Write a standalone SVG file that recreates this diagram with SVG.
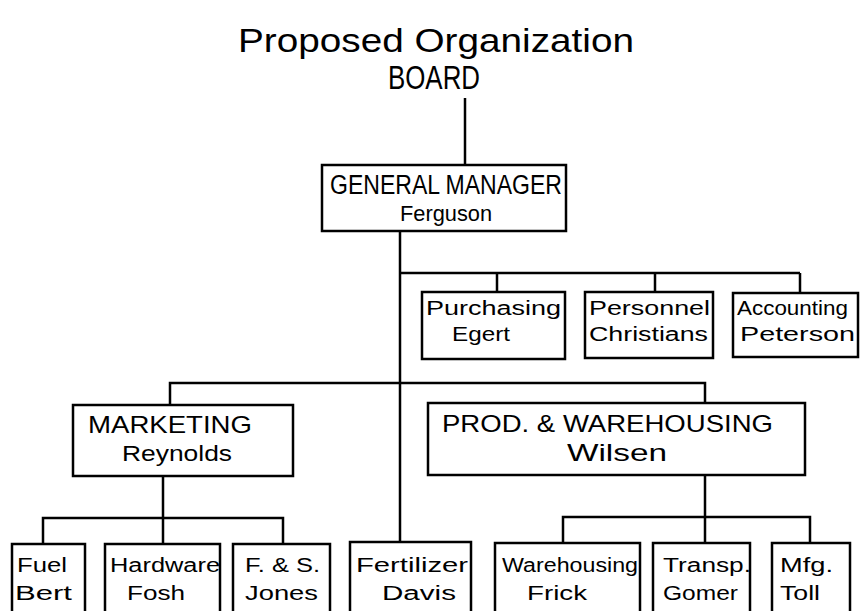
<svg xmlns="http://www.w3.org/2000/svg" width="862" height="611" viewBox="0 0 862 611">
<style>
.box{fill:#fff;stroke:#000;stroke-width:2.5}
.ln{stroke:#000;stroke-width:2.5;fill:none}
text{font-family:"Liberation Sans","DejaVu Sans",sans-serif;fill:#000}
.t1{font-size:20px}
</style>
<rect width="862" height="611" fill="#fff"/>
<g id="title">
<text x="238" y="52" font-size="34" textLength="396" lengthAdjust="spacingAndGlyphs">Proposed Organization</text>
</g>
<g id="board">
<text x="388" y="89" font-size="34" textLength="92" lengthAdjust="spacingAndGlyphs">BOARD</text>
</g>
<g id="connectors">
<path class="ln" d="M465 98V165"/>
<path class="ln" d="M400 231V542"/>
<path class="ln" d="M400 273H800M497 273V292M655 273V292M800 273V293"/>
<path class="ln" d="M170 405V383H705V403"/>
<path class="ln" d="M163 476V518M43 544V518H283V544M163 518V544"/>
<path class="ln" d="M705 475V517M563 543V517H810V543M705 517V543"/>
</g>
<g id="gm">
<rect class="box" x="322" y="165" width="244" height="66"/>
<text x="330" y="194" font-size="27" textLength="232" lengthAdjust="spacingAndGlyphs">GENERAL MANAGER</text>
<text x="400" y="221" font-size="22" textLength="92" lengthAdjust="spacingAndGlyphs">Ferguson</text>
</g>
<g id="purchasing">
<rect class="box" x="422" y="292" width="143" height="67"/>
<text class="t1" x="426" y="315" textLength="135" lengthAdjust="spacingAndGlyphs">Purchasing</text>
<text class="t1" x="452" y="341" textLength="58" lengthAdjust="spacingAndGlyphs">Egert</text>
</g>
<g id="personnel">
<rect class="box" x="585" y="292" width="128" height="66"/>
<text class="t1" x="589" y="315" textLength="121" lengthAdjust="spacingAndGlyphs">Personnel</text>
<text class="t1" x="589" y="341" textLength="119" lengthAdjust="spacingAndGlyphs">Christians</text>
</g>
<g id="accounting">
<rect class="box" x="733" y="293" width="125" height="64"/>
<text class="t1" x="737" y="315" textLength="111" lengthAdjust="spacingAndGlyphs">Accounting</text>
<text class="t1" x="740" y="341" textLength="115" lengthAdjust="spacingAndGlyphs">Peterson</text>
</g>
<g id="marketing">
<rect class="box" x="73" y="405" width="220" height="71"/>
<text x="88" y="433" font-size="24" textLength="164" lengthAdjust="spacingAndGlyphs">MARKETING</text>
<text x="122" y="461" font-size="22" textLength="110" lengthAdjust="spacingAndGlyphs">Reynolds</text>
</g>
<g id="production">
<rect class="box" x="428" y="403" width="377" height="72"/>
<text x="442" y="432" font-size="24" textLength="331" lengthAdjust="spacingAndGlyphs">PROD. &amp; WAREHOUSING</text>
<text x="567" y="461" font-size="24" textLength="100" lengthAdjust="spacingAndGlyphs">Wilsen</text>
</g>
<g id="fuel">
<rect class="box" x="12" y="544" width="73" height="90"/>
<text class="t1" x="17" y="572" textLength="50" lengthAdjust="spacingAndGlyphs">Fuel</text>
<text class="t1" x="15" y="600" textLength="57" lengthAdjust="spacingAndGlyphs">Bert</text>
</g>
<g id="hardware">
<rect class="box" x="105" y="544" width="115" height="90"/>
<text class="t1" x="110" y="572" textLength="110" lengthAdjust="spacingAndGlyphs">Hardware</text>
<text class="t1" x="127" y="600" textLength="58" lengthAdjust="spacingAndGlyphs">Fosh</text>
</g>
<g id="fs">
<rect class="box" x="233" y="544" width="97" height="90"/>
<text class="t1" x="245" y="572" textLength="75" lengthAdjust="spacingAndGlyphs">F. &amp; S.</text>
<text class="t1" x="245" y="600" textLength="73" lengthAdjust="spacingAndGlyphs">Jones</text>
</g>
<g id="fertilizer">
<rect class="box" x="350" y="542" width="121" height="90"/>
<text class="t1" x="356" y="572" textLength="112" lengthAdjust="spacingAndGlyphs">Fertilizer</text>
<text class="t1" x="382" y="600" textLength="74" lengthAdjust="spacingAndGlyphs">Davis</text>
</g>
<g id="warehousing">
<rect class="box" x="495" y="543" width="145" height="90"/>
<text class="t1" x="502" y="572" textLength="136" lengthAdjust="spacingAndGlyphs">Warehousing</text>
<text class="t1" x="527" y="600" textLength="60" lengthAdjust="spacingAndGlyphs">Frick</text>
</g>
<g id="transp">
<rect class="box" x="653" y="543" width="97" height="90"/>
<text class="t1" x="663" y="572" textLength="88" lengthAdjust="spacingAndGlyphs">Transp.</text>
<text class="t1" x="663" y="600" textLength="75" lengthAdjust="spacingAndGlyphs">Gomer</text>
</g>
<g id="mfg">
<rect class="box" x="772" y="543" width="78" height="90"/>
<text class="t1" x="780" y="572" textLength="53" lengthAdjust="spacingAndGlyphs">Mfg.</text>
<text class="t1" x="780" y="600" textLength="40" lengthAdjust="spacingAndGlyphs">Toll</text>
</g>
</svg>
